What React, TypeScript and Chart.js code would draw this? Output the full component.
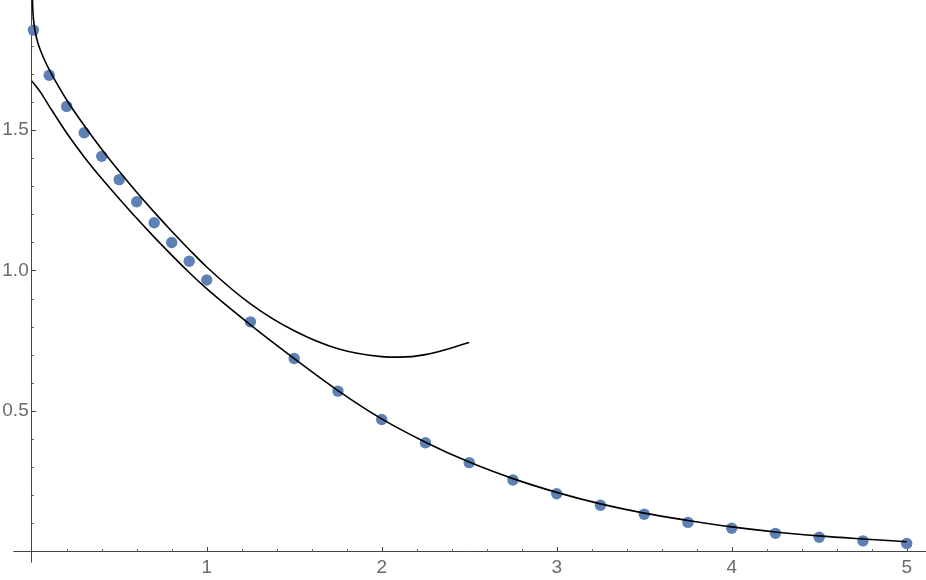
import React, { useEffect, useRef } from "react";
import { Chart, registerables } from "chart.js";

Chart.register(...registerables);

// Sampled values (blue dots)
const sampleX = [0.01, 0.1, 0.2, 0.3, 0.4, 0.5, 0.6, 0.7, 0.8, 0.9, 1.0, 1.25, 1.5, 1.75, 2.0, 2.25, 2.5, 2.75, 3.0, 3.25, 3.5, 3.75, 4.0, 4.25, 4.5, 4.75, 5.0];
const sampleY = [1.857, 1.696, 1.585, 1.491, 1.407, 1.324, 1.245, 1.17, 1.1, 1.033, 0.966, 0.817, 0.686, 0.57, 0.469, 0.386, 0.315, 0.253, 0.204, 0.163, 0.131, 0.102, 0.081, 0.063, 0.049, 0.036, 0.027];

// Lower black curve (large-x approximation)
const largeX = [0, 0.05, 0.1, 0.2, 0.3, 0.4, 0.5, 0.6, 0.7, 0.8, 0.9, 1.0, 1.25, 1.5, 1.75, 2.0, 2.25, 2.5, 2.75, 3.0, 3.25, 3.5, 3.75, 4.0, 4.25, 4.5, 4.75, 5.0];
const largeY = [1.676, 1.636, 1.586, 1.49, 1.405, 1.328, 1.256, 1.186, 1.119, 1.055, 0.993, 0.935, 0.806, 0.686, 0.572, 0.471, 0.388, 0.317, 0.258, 0.209, 0.168, 0.135, 0.109, 0.086, 0.068, 0.054, 0.043, 0.033];

// Upper black curve (small-x series)
const smallX = [0.002, 0.005, 0.01, 0.02, 0.035, 0.05, 0.07, 0.1, 0.15, 0.2, 0.3, 0.4, 0.5, 0.6, 0.7, 0.8, 0.9, 1.0, 1.25, 1.5, 1.75, 2.0, 2.1, 2.25, 2.5];
const smallY = [2.03, 1.95, 1.897, 1.852, 1.812, 1.785, 1.755, 1.716, 1.66, 1.608, 1.517, 1.4325, 1.3535, 1.279, 1.208, 1.14, 1.075, 1.0125, 0.881, 0.785, 0.721, 0.693, 0.691, 0.7, 0.743];

// Axis ticks
const xTickValues = [1, 2, 3, 4, 5];
const yTickValues = [0.5, 1.0, 1.5];
const xMinorTicks = [0.2, 0.4, 0.6, 0.8, 1.2, 1.4, 1.6, 1.8, 2.2, 2.4, 2.6, 2.8, 3.2, 3.4, 3.6, 3.8, 4.2, 4.4, 4.6, 4.8];
const yMinorTicks = [0.1, 0.2, 0.3, 0.4, 0.6, 0.7, 0.8, 0.9, 1.1, 1.2, 1.3, 1.4, 1.6, 1.7, 1.8, 1.9];

const X_MIN = 0;
const X_MAX = 5.1103;
const Y_MIN = 0;
const Y_MAX = 1.9643;
const X_AXIS_START = -0.105;
const Y_AXIS_END = -0.041;

const AXIS_COLOR = "#444444";
const LABEL_COLOR = "#6b6b6b";
const DOT_COLOR = "#5E81B5";
const FONT_FAMILY = '"Liberation Sans", Arial, Helvetica, sans-serif';

const toPoints = (xs: number[], ys: number[]) => xs.map((x, i) => ({ x, y: ys[i] }));

const axesPlugin = {
  id: "mmaAxes",
  beforeDatasetsDraw(chart: any) {
    const { ctx } = chart;
    const xs = chart.scales.x;
    const ys = chart.scales.y;
    const x0 = Math.floor(xs.getPixelForValue(0)) + 0.5;
    const y0 = Math.round(ys.getPixelForValue(0)) + 0.5;
    ctx.save();
    ctx.strokeStyle = AXIS_COLOR;
    ctx.lineWidth = 1;
    ctx.beginPath();
    ctx.moveTo(xs.getPixelForValue(X_AXIS_START), y0);
    ctx.lineTo(chart.width, y0);
    ctx.moveTo(x0, 0);
    ctx.lineTo(x0, ys.getPixelForValue(Y_AXIS_END));
    ctx.stroke();

    ctx.beginPath();
    xTickValues.forEach((v) => {
      const px = Math.round(xs.getPixelForValue(v)) + 0.5;
      ctx.moveTo(px, y0);
      ctx.lineTo(px, y0 - 4.5);
    });
    yTickValues.forEach((v) => {
      const py = Math.round(ys.getPixelForValue(v)) + 0.5;
      ctx.moveTo(x0, py);
      ctx.lineTo(x0 + 4.5, py);
    });
    ctx.stroke();

    ctx.strokeStyle = "#666666";
    ctx.beginPath();
    xMinorTicks.forEach((v) => {
      const px = Math.round(xs.getPixelForValue(v)) + 0.5;
      ctx.moveTo(px, y0);
      ctx.lineTo(px, y0 - 2.5);
    });
    yMinorTicks.forEach((v) => {
      const py = Math.round(ys.getPixelForValue(v)) + 0.5;
      ctx.moveTo(x0, py);
      ctx.lineTo(x0 + 2.5, py);
    });
    ctx.stroke();
    ctx.restore();
  },
};

export default function App() {
  const ref = useRef<HTMLCanvasElement>(null);

  useEffect(() => {
    if (!ref.current) return;
    const chart = new Chart(ref.current, {
      type: "scatter",
      data: {
        datasets: [
          {
            label: "small-x series",
            data: toPoints(smallX, smallY),
            showLine: true,
            borderColor: "#000000",
            borderWidth: 1.6,
            pointRadius: 0,
            pointHoverRadius: 0,
            cubicInterpolationMode: "monotone",
            clip: false,
            order: 0,
          },
          {
            label: "large-x approximation",
            data: toPoints(largeX, largeY),
            showLine: true,
            borderColor: "#000000",
            borderWidth: 1.6,
            pointRadius: 0,
            pointHoverRadius: 0,
            cubicInterpolationMode: "monotone",
            clip: false,
            order: 0,
          },
          {
            label: "samples",
            data: toPoints(sampleX, sampleY),
            showLine: false,
            backgroundColor: DOT_COLOR,
            borderWidth: 0,
            pointRadius: 5.7,
            pointHoverRadius: 5.7,
            clip: false,
            order: 1,
          },
        ],
      } as any,
      options: {
        responsive: false,
        animation: false,
        events: [],
        layout: { padding: 0, autoPadding: false },
        plugins: {
          legend: { display: false },
          tooltip: { enabled: false },
        },
        scales: {
          x: {
            type: "linear",
            min: X_MIN,
            max: X_MAX,
            grid: { display: false, drawTicks: false },
            border: { display: false },
            ticks: {
              padding: 5,
              color: LABEL_COLOR,
              font: { family: FONT_FAMILY, size: 19 },
              maxRotation: 0,
              autoSkip: false,
              callback: (v: any) => String(v),
            },
            afterBuildTicks: (s: any) => {
              s.ticks = xTickValues.map((v) => ({ value: v }));
            },
            afterFit: (s: any) => {
              s.height = 29;
              s.paddingLeft = 0;
              s.paddingRight = 0;
            },
          },
          y: {
            type: "linear",
            min: Y_MIN,
            max: Y_MAX,
            grid: { display: false, drawTicks: false },
            border: { display: false },
            ticks: {
              padding: 3,
              color: LABEL_COLOR,
              font: { family: FONT_FAMILY, size: 19 },
              autoSkip: false,
              callback: (v: any) => Number(v).toFixed(1),
            },
            afterBuildTicks: (s: any) => {
              s.ticks = yTickValues.map((v) => ({ value: v }));
            },
            afterFit: (s: any) => {
              s.width = 31.7;
              s.paddingTop = 0;
              s.paddingBottom = 0;
            },
          },
        },
      } as any,
      plugins: [axesPlugin],
    });
    return () => chart.destroy();
  }, []);

  return (
    <div style={{ position: "absolute", left: 0, top: 0, width: 926, height: 580, background: "#ffffff" }}>
      <canvas ref={ref} width={926} height={580} style={{ display: "block", width: 926, height: 580 }} />
    </div>
  );
}
